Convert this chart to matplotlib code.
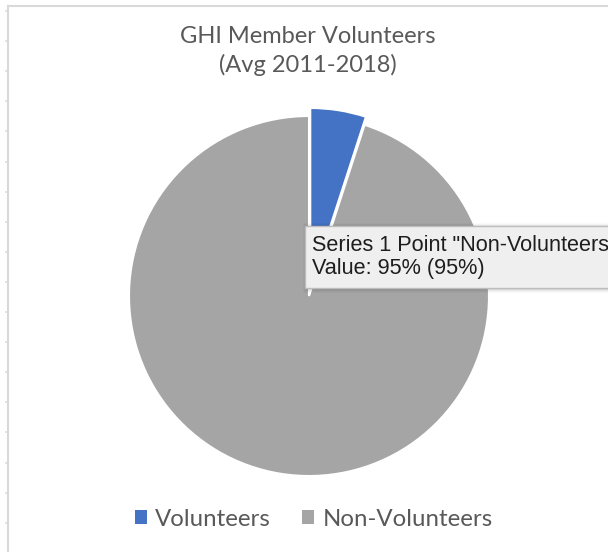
import matplotlib
matplotlib.use("Agg")
import matplotlib.pyplot as plt
import matplotlib.patches as patches
import matplotlib.lines as lines

# data
labels = ["Volunteers", "Non-Volunteers"]
shares = [5, 95]
colors = ["#4472C4", "#A5A5A5"]
title = "GHI Member Volunteers\n(Avg 2011-2018)"
tooltip = 'Series 1 Point "Non-Volunteers"\nValue: 95% (95%)'

W, H = 608, 552
fig = plt.figure(figsize=(W / 100, H / 100), dpi=100)


def fx(x):
    return x / W


def fy(y):
    return 1 - y / H


# chart area frame (light gray border with little ticks on the left)
frame_c = "#D9D9D9"
fig.add_artist(lines.Line2D([fx(8), fx(W)], [fy(6), fy(6)], color=frame_c, lw=1.5))
fig.add_artist(lines.Line2D([fx(8), fx(8)], [fy(6), fy(H)], color=frame_c, lw=1.5))
y = 11.0
while y < H:
    fig.add_artist(lines.Line2D([fx(5.5), fx(8)], [fy(y), fy(y)], color=frame_c, lw=1.2))
    y += 30.1

# pie
cx, cy, r = 309, 296, 180
half = r * 1.1
ax = fig.add_axes([fx(cx - half), fy(cy + half), 2 * half / W, 2 * half / H])
wedges, _ = ax.pie(
    shares,
    colors=colors,
    startangle=90,
    counterclock=False,
    explode=[0.045, 0],
    wedgeprops=dict(edgecolor="white", linewidth=1.5),
)
ax.set_xlim(-1.1, 1.1)
ax.set_ylim(-1.1, 1.1)
ax.set_aspect("auto")
ax.axis("off")

# title
fig.text(fx(308), fy(51), title, ha="center", va="center", fontsize=17,
         family="Lato", color="#595959", linespacing=1.35)

# legend
leg = fig.legend(
    wedges, labels, loc="center", bbox_to_anchor=(fx(314), fy(519)),
    ncol=2, frameon=False, handlelength=0.5, handleheight=0.5,
    handletextpad=0.35, columnspacing=1.3,
    prop=dict(family="Lato", size=17.3),
)
for t in leg.get_texts():
    t.set_color("#595959")
for h in leg.legend_handles:
    h.set_edgecolor("none")

# tooltip box with soft shadow
bx0, by0, bx1, by1 = 305, 226, 640, 288
for i, a in enumerate([0.05, 0.04, 0.03, 0.02]):
    d = i + 1
    fig.add_artist(patches.Rectangle(
        (fx(bx0 - d + 2), fy(by1 + d + 1)), (bx1 - bx0 + 2 * d) / W, (by1 - by0 + 2 * d) / H,
        facecolor="black", edgecolor="none", alpha=a, zorder=5))
fig.add_artist(patches.Rectangle(
    (fx(bx0), fy(by1)), (bx1 - bx0) / W, (by1 - by0) / H,
    facecolor="#EFEFEF", edgecolor="#BDBDBD", lw=1.0, zorder=6))
fig.text(fx(312), fy(257), tooltip, ha="left", va="center", fontsize=15.6,
         family="Liberation Sans", color="#1E1E1E", linespacing=1.1, zorder=7)

fig.savefig("out.png", dpi=100)
